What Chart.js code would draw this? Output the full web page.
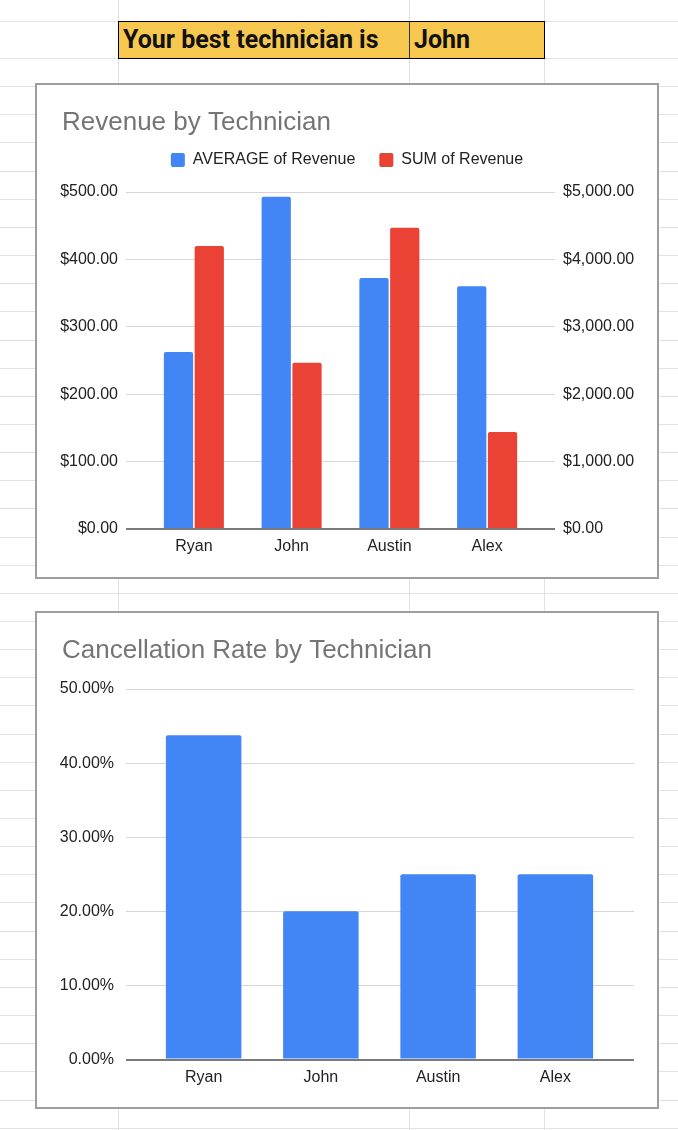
<!DOCTYPE html>
<html>
<head>
<meta charset="utf-8">
<script src="https://cdn.jsdelivr.net/npm/chart.js@4.4.1/dist/chart.umd.min.js"></script>
<style>
  html, body { margin: 0; padding: 0; background: #fff; }
  #sheet { position: relative; width: 678px; height: 1130px; overflow: hidden; }
  .hline { position: absolute; left: 0; width: 678px; height: 1px; background: #e2e2e2; }
  .vline { position: absolute; top: 0; width: 1px; height: 1130px; background: #e2e2e2; }
  #best {
    position: absolute; left: 118px; top: 21px; width: 425px; height: 36px;
    background: #f6c84f; border: 1px solid #000;
    font: 700 25px Roboto, "Liberation Sans", Arial, sans-serif; color: #111;
  }
  #best span { position: absolute; top: 0; line-height: 36px; }
  #best .sep { position: absolute; left: 290px; top: 0; width: 1px; height: 36px; background: #333; }
  .box { position: absolute; left: 35px; width: 620px; border: 2px solid #9e9e9e; background: #fff; }
  .box canvas { display: block; }
</style>
</head>
<body>
<div id="sheet">
  <div id="best">
    <span style="left:4px">Your best technician is</span>
    <div class="sep"></div>
    <span style="left:295px">John</span>
  </div>
  <div class="box" style="top:83px;height:492px"><canvas id="revenueChart" width="620" height="492"></canvas></div>
  <div class="box" style="top:611px;height:494px"><canvas id="cancelChart" width="620" height="494"></canvas></div>
</div>
<script>
const technicians = ['Ryan', 'John', 'Austin', 'Alex'];
const avgRevenue = [262.5, 493, 372.5, 360];
const sumRevenue = [4200, 2465, 4470, 1440];
const cancelRate = [43.75, 20, 25, 25];

// spreadsheet grid behind the charts
const sheet = document.getElementById('sheet');
const rowLines = [21];
for (let y = 58; y < 1130; y += 28.15) rowLines.push(Math.round(y));
rowLines.forEach((y) => {
  const d = document.createElement('div');
  d.className = 'hline';
  d.style.top = y + 'px';
  sheet.insertBefore(d, sheet.firstChild);
});
[118, 409, 544].forEach((x) => {
  const d = document.createElement('div');
  d.className = 'vline';
  d.style.left = x + 'px';
  sheet.insertBefore(d, sheet.firstChild);
});

Chart.defaults.font.family = '"Liberation Sans", Arial, sans-serif';
Chart.defaults.font.size = 16;
Chart.defaults.color = '#222';

const BLUE = '#4285f4';
const RED = '#ea4335';

const gridColor = (ctx) => (ctx.tick && ctx.tick.value === 0 ? '#7a7a7a' : '#d6d6d6');
const gridWidth = (ctx) => (ctx.tick && ctx.tick.value === 0 ? 2 : 1);

const money = (v) => '$' + Number(v).toLocaleString('en-US', { minimumFractionDigits: 2, maximumFractionDigits: 2 });

// title sits indented like the sheets chart, not flush with the canvas edge
const titleIndent = {
  id: 'titleIndent',
  afterLayout(chart) {
    if (chart.titleBlock) chart.titleBlock.left = 25;
  },
};

// a bit more room under the legend
const legendGap = {
  id: 'legendGap',
  beforeInit(chart) {
    const fit = chart.legend.fit;
    chart.legend.fit = function () {
      fit.call(this);
      this.height += 14;
    };
  },
};

new Chart(document.getElementById('revenueChart'), {
  type: 'bar',
  data: {
    labels: technicians,
    datasets: [
      {
        label: 'AVERAGE of Revenue',
        data: avgRevenue,
        backgroundColor: BLUE,
        yAxisID: 'y',
        borderRadius: 2,
        categoryPercentage: 0.63,
        barPercentage: 0.95,
      },
      {
        label: 'SUM of Revenue',
        data: sumRevenue,
        backgroundColor: RED,
        yAxisID: 'y2',
        borderRadius: 2,
        categoryPercentage: 0.63,
        barPercentage: 0.95,
      },
    ],
  },
  plugins: [titleIndent, legendGap],
  options: {
    responsive: false,
    animation: false,
    plugins: {
      tooltip: { enabled: false },
      title: {
        display: true,
        text: 'Revenue by Technician',
        align: 'start',
        color: '#757575',
        font: { size: 26, weight: 'normal' },
        padding: { top: 22.4, bottom: -10.6 },
      },
      legend: {
        labels: {
          boxWidth: 14,
          boxHeight: 14,
          padding: 24,
          useBorderRadius: true,
          borderRadius: 2,
          color: '#222',
          font: { size: 16 },
        },
      },
    },
    scales: {
      x: {
        grid: { display: false, drawTicks: false },
        border: { display: false },
        ticks: { padding: 8 },
        afterFit: (s) => { s.height = 48; },
      },
      y: {
        position: 'left',
        min: 0,
        max: 500,
        ticks: { stepSize: 100, padding: 8, callback: money },
        grid: { color: gridColor, lineWidth: gridWidth, tickColor: gridColor, tickWidth: gridWidth, tickLength: 19 },
        border: { display: false },
        afterFit: (s) => { s.width = 108; },
      },
      y2: {
        position: 'right',
        min: 0,
        max: 5000,
        ticks: { stepSize: 1000, padding: 8, callback: money },
        grid: { drawOnChartArea: false, lineWidth: gridWidth, tickColor: gridColor, tickWidth: gridWidth, tickLength: 19 },
        border: { display: false },
        afterFit: (s) => { s.width = 121; },
      },
    },
  },
});

new Chart(document.getElementById('cancelChart'), {
  type: 'bar',
  data: {
    labels: technicians,
    datasets: [
      {
        label: 'Cancellation Rate',
        data: cancelRate,
        backgroundColor: BLUE,
        borderRadius: 2,
        categoryPercentage: 1,
        barPercentage: 0.644,
      },
    ],
  },
  plugins: [titleIndent],
  options: {
    responsive: false,
    animation: false,
    plugins: {
      tooltip: { enabled: false },
      legend: { display: false },
      title: {
        display: true,
        text: 'Cancellation Rate by Technician',
        align: 'start',
        color: '#757575',
        font: { size: 26, weight: 'normal' },
        padding: { top: 22.4, bottom: 22.4 },
      },
    },
    scales: {
      x: {
        grid: { display: false, drawTicks: false },
        border: { display: false },
        ticks: { padding: 8 },
        afterFit: (s) => { s.height = 47.5; },
      },
      y: {
        position: 'left',
        min: 0,
        max: 50,
        ticks: { stepSize: 10, padding: 12, callback: (v) => Number(v).toFixed(2) + '%' },
        grid: { color: gridColor, lineWidth: gridWidth, tickColor: gridColor, tickWidth: gridWidth, tickLength: 19 },
        border: { display: false },
        afterFit: (s) => { s.width = 108; },
      },
      y2: {
        position: 'right',
        min: 0,
        max: 50,
        ticks: { stepSize: 10, display: false },
        grid: { drawOnChartArea: false, lineWidth: gridWidth, tickColor: gridColor, tickWidth: gridWidth, tickLength: 20 },
        border: { display: false },
        afterFit: (s) => { s.width = 43; },
      },
    },
  },
});
</script>
</body>
</html>
